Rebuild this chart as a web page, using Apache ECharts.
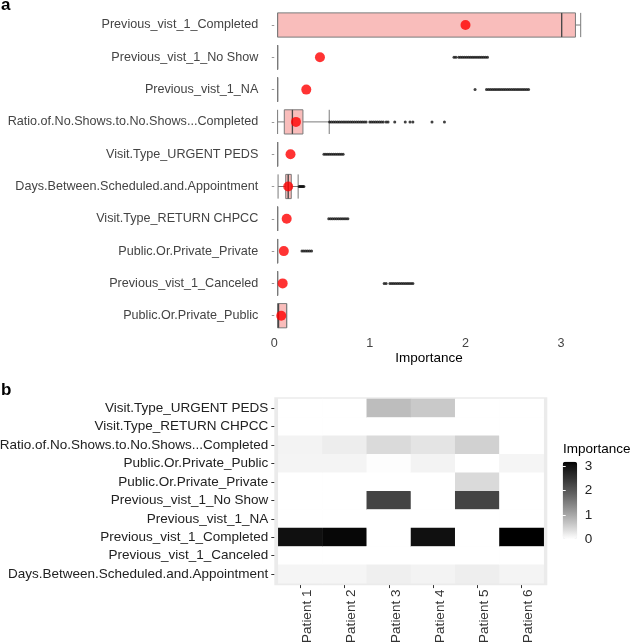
<!DOCTYPE html>
<html>
<head>
<meta charset="utf-8">
<script src="https://cdn.jsdelivr.net/npm/echarts@6/dist/echarts.min.js"></script>
<style>html,body{margin:0;padding:0;background:#fff;}#chart{width:631px;height:644px;}</style>
</head>
<body>
<div id="chart"></div>
<script>
// ---------- Panel a data ----------
const featuresA = ['Previous_vist_1_Completed','Previous_vist_1_No Show','Previous_vist_1_NA','Ratio.of.No.Shows.to.No.Shows...Completed','Visit.Type_URGENT PEDS','Days.Between.Scheduled.and.Appointment','Visit.Type_RETURN CHPCC','Public.Or.Private_Private','Previous_vist_1_Canceled','Public.Or.Private_Public'];
const boxMin    = [0.035,0.035,0.035,0.035,0.035,0.04,0.035,0.035,0.035,0.035];
const boxQ1     = [0.035,0.035,0.035,0.105,0.035,0.12,0.035,0.035,0.035,0.035];
const boxMedian = [3.006,0.035,0.035,0.19,0.035,0.146,0.035,0.035,0.035,0.045];
const boxQ3     = [3.15,0.035,0.035,0.30,0.035,0.178,0.035,0.035,0.035,0.13];
const boxMax    = [3.205,0.035,0.035,0.575,0.035,0.25,0.035,0.035,0.035,0.13];
const meanImportance = [2.0,0.478,0.335,0.227,0.17,0.146,0.13,0.10,0.088,0.073];

const outliersCompleted = [];
const outliersNoShow = [1.88,1.90,1.93,1.95,1.97,1.99,2.01,2.03,2.05,2.07,2.09,2.11,2.13,2.15,2.17,2.19,2.21,2.23];
const outliersNA = [2.10,2.22,2.24,2.26,2.28,2.30,2.32,2.34,2.36,2.38,2.40,2.42,2.44,2.46,2.48,2.50,2.52,2.54,2.56,2.58,2.60,2.62,2.64,2.66];
const outliersRatio = [0.58,0.60,0.62,0.64,0.66,0.68,0.70,0.72,0.74,0.76,0.78,0.80,0.82,0.84,0.86,0.88,0.90,0.92,0.94,0.96,1.00,1.02,1.04,1.06,1.08,1.10,1.12,1.14,1.17,1.19,1.26,1.37,1.42,1.45,1.65,1.78];
const outliersUrgent = [0.52,0.54,0.56,0.58,0.60,0.62,0.64,0.66,0.68,0.70,0.72];
const outliersDays = [0.26,0.27,0.28,0.29,0.30,0.31];
const outliersReturn = [0.57,0.59,0.61,0.63,0.65,0.67,0.69,0.71,0.73,0.75,0.77];
const outliersPrivate = [0.29,0.31,0.33,0.35,0.37,0.39];
const outliersCanceled = [1.15,1.17,1.21,1.23,1.25,1.27,1.29,1.31,1.33,1.35,1.37,1.39,1.41,1.43,1.45];
const outliersPublic = [];
const outlierRows = [outliersCompleted,outliersNoShow,outliersNA,outliersRatio,outliersUrgent,outliersDays,outliersReturn,outliersPrivate,outliersCanceled,outliersPublic];
const ticksA = [0,1,2,3];

// ---------- Panel b data ----------
const heatRows = ['Visit.Type_URGENT PEDS','Visit.Type_RETURN CHPCC','Ratio.of.No.Shows.to.No.Shows...Completed','Public.Or.Private_Public','Public.Or.Private_Private','Previous_vist_1_No Show','Previous_vist_1_NA','Previous_vist_1_Completed','Previous_vist_1_Canceled','Days.Between.Scheduled.and.Appointment'];
const patients = ['Patient 1','Patient 2','Patient 3','Patient 4','Patient 5','Patient 6'];
const patient1 = [0,0,0.14,0.13,0,0,0,3.05,0,0.12];
const patient2 = [0,0,0.20,0.13,0,0,0,3.13,0,0.12];
const patient3 = [0.75,0,0.41,0.025,0,2.28,0,0,0,0.18];
const patient4 = [0.61,0,0.30,0.14,0,0,0,3.05,0,0.14];
const patient5 = [0,0,0.51,0,0.41,2.28,0,0,0,0.19];
const patient6 = [0,0,0,0.12,0,0,0,3.2,0,0.13];
const patientValues = [patient1,patient2,patient3,patient4,patient5,patient6];
const legendTicks = [0,1,2,3];
const heatMax = 3.2;

// ---------- build series data ----------
const boxData = featuresA.map((f,i)=>[boxMin[i],boxQ1[i],boxMedian[i],boxQ3[i],boxMax[i]]);
const outlierData = [];
outlierRows.forEach((arr,i)=>arr.forEach(v=>outlierData.push([v,featuresA[i]])));
const medianData = [];
featuresA.forEach((f,i)=>{ if (boxQ3[i] > boxQ1[i]) medianData.push([boxMedian[i], f]); });
const meanData = featuresA.map((f,i)=>[meanImportance[i], f]);
const heatData = [];
patientValues.forEach((vals,pi)=>vals.forEach((v,ri)=>heatData.push([pi,ri,v])));

// white -> black gradient interpolated in CIE Lab (like ggplot2)
function labGray(t){
  const L = 100*(1-t);
  const Y = L > 8 ? Math.pow((L+16)/116,3) : L/903.3;
  const s = Y <= 0.0031308 ? 12.92*Y : 1.055*Math.pow(Y,1/2.4)-0.055;
  const g = Math.max(0,Math.min(255,Math.round(s*255)));
  return 'rgb('+g+','+g+','+g+')';
}
const grayStops = [];
for (let k=0;k<=20;k++) grayStops.push(labGray(k/20));

const FONT = 'Liberation Sans, Arial, Helvetica, sans-serif';
const chart = echarts.init(document.getElementById('chart'));
chart.setOption({
  animation:false,
  backgroundColor:'#ffffff',
  textStyle:{fontFamily:FONT},
  title:[
    {text:'a', left:1, top:-3.5, padding:0, textStyle:{fontSize:17,fontWeight:'bold',color:'#000',fontFamily:FONT}},
    {text:'b', left:1, top:381.5, padding:0, textStyle:{fontSize:17,fontWeight:'bold',color:'#000',fontFamily:FONT}},
    {text:'Importance', left:563, top:441.8, padding:0, textStyle:{fontSize:13.5,fontWeight:'normal',color:'#000',fontFamily:FONT}}
  ],
  graphic:[
    {type:'rect', z:-10, shape:{x:274.3,y:397.2,width:273,height:188}, style:{fill:'#EBEBEB'}}
  ],
  grid:[
    {left:262.3, top:8.85, width:333.6, height:323, outerBoundsMode:'none', containLabel:false},
    {left:278.3, top:399, width:265.4, height:184.3, outerBoundsMode:'none', containLabel:false},
    {left:562.7, top:461.7, width:14.5, height:77.4, outerBoundsMode:'none', containLabel:false}
  ],
  xAxis:[
    {type:'value', gridIndex:0, min:-0.125, max:3.364,
     axisLine:{show:false}, axisTick:{show:false}, splitLine:{show:false},
     axisLabel:{customValues:ticksA, color:'#444', fontSize:12.6, margin:5.3, fontFamily:FONT},
     name:'Importance', nameLocation:'middle', nameGap:19, nameMoveOverlap:false,
     nameTextStyle:{color:'#000', fontSize:13.5, fontFamily:FONT}},
    {type:'category', gridIndex:1, data:patients, offset:1.8,
     axisLine:{show:false}, splitLine:{show:false},
     axisTick:{show:true, alignWithLabel:true, length:3, lineStyle:{color:'#333'}},
     axisLabel:{rotate:90, verticalAlign:'top', color:'#333', fontSize:13.5, margin:4.5, fontFamily:FONT}},
    {type:'value', gridIndex:2, show:false, min:0, max:1}
  ],
  yAxis:[
    {type:'category', gridIndex:0, data:featuresA, inverse:true,
     axisLine:{show:false}, splitLine:{show:false},
     axisTick:{show:true, alignWithLabel:true, length:2.5, lineStyle:{color:'#999'}},
     axisLabel:{color:'#444', fontSize:12.6, margin:4, fontFamily:FONT}},
    {type:'category', gridIndex:1, data:heatRows, inverse:true, offset:4,
     axisLine:{show:false}, splitLine:{show:false},
     axisTick:{show:true, alignWithLabel:true, length:3, lineStyle:{color:'#333'}},
     axisLabel:{color:'#222', fontSize:13.5, margin:6, fontFamily:FONT}},
    {type:'value', gridIndex:2, min:0, max:heatMax, position:'right', z:10,
     axisLine:{show:false}, splitLine:{show:false},
     axisTick:{show:true, inside:true, length:3, customValues:legendTicks, lineStyle:{color:'#fff'}},
     axisLabel:{customValues:legendTicks, color:'#222', fontSize:13.5, margin:7.5, fontFamily:FONT}},
    {type:'value', gridIndex:2, min:0, max:heatMax, position:'left', z:10,
     axisLine:{show:false}, splitLine:{show:false}, axisLabel:{show:false},
     axisTick:{show:true, inside:true, length:3, customValues:legendTicks, lineStyle:{color:'#fff'}}}
  ],
  visualMap:{
    type:'continuous', seriesIndex:4, min:0, max:heatMax, calculable:false,
    orient:'vertical', left:562.7, top:461.7, itemWidth:14.5, itemHeight:77.4,
    padding:0, showLabel:false, text:null,
    inRange:{color:grayStops}
  },
  series:[
    {type:'boxplot', xAxisIndex:0, yAxisIndex:0, data:boxData, boxWidth:['75%','75%'],
     itemStyle:{color:'#F9BDBB', borderColor:'#7a7a7a', borderWidth:1}, z:2},
    {type:'scatter', xAxisIndex:0, yAxisIndex:0, data:outlierData, symbol:'circle', symbolSize:3,
     itemStyle:{color:'#111'}, z:3},
    {type:'scatter', xAxisIndex:0, yAxisIndex:0, data:medianData, symbol:'rect', symbolSize:[1.3,24],
     itemStyle:{color:'#3a3a3a'}, z:4},
    {type:'scatter', xAxisIndex:0, yAxisIndex:0, data:meanData, symbol:'circle', symbolSize:10,
     itemStyle:{color:'#FF0000'}, z:5},
    {type:'heatmap', xAxisIndex:1, yAxisIndex:1, data:heatData, itemStyle:{borderWidth:0}, z:2}
  ]
});
</script>
</body>
</html>
